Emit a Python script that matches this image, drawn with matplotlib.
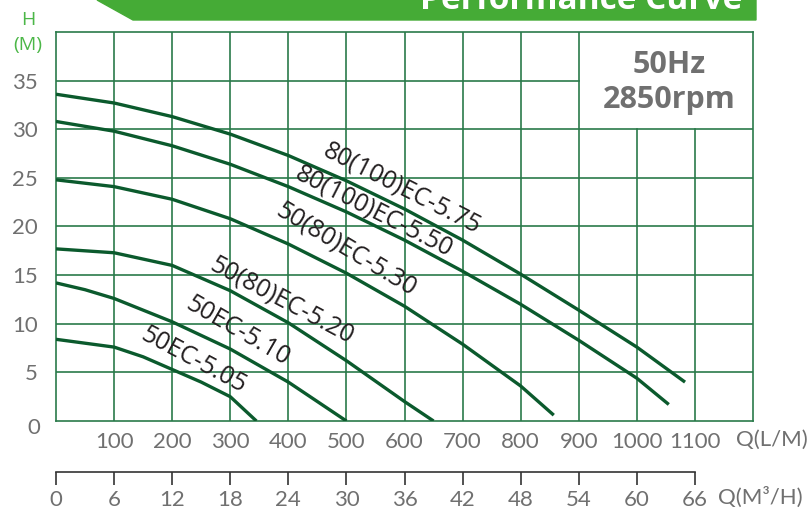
import matplotlib.pyplot as plt
from matplotlib.patches import Polygon

# flow in L/min, head in m
models = ['80(100)EC-5.75', '80(100)EC-5.50', '50(80)EC-5.30',
          '50(80)EC-5.20', '50EC-5.10', '50EC-5.05']
flows = [
    [0, 100, 200, 300, 400, 500, 600, 700, 800, 900, 1000, 1083],
    [0, 100, 200, 300, 400, 500, 600, 700, 800, 900, 1000, 1055],
    [0, 100, 200, 300, 400, 500, 600, 700, 800, 857],
    [0, 100, 200, 300, 400, 500, 600, 650],
    [0, 50, 100, 200, 300, 400, 500],
    [0, 100, 150, 200, 250, 300, 345],
]
heads = [
    [33.6, 32.7, 31.3, 29.5, 27.3, 24.7, 21.8, 18.6, 15.1, 11.4, 7.6, 4.0],
    [30.8, 29.8, 28.3, 26.4, 24.1, 21.5, 18.6, 15.4, 12.0, 8.3, 4.4, 1.7],
    [24.8, 24.1, 22.8, 20.8, 18.2, 15.2, 11.8, 7.9, 3.6, 0.6],
    [17.7, 17.3, 16.0, 13.4, 10.1, 6.2, 2.0, 0.0],
    [14.2, 13.5, 12.6, 10.2, 7.4, 4.0, 0.0],
    [8.4, 7.6, 6.6, 5.3, 4.0, 2.5, 0.0],
]
label_pos = [(596, 23.9, -27), (547, 21.5, -27), (500, 17.6, -31),
             (388, 12.4, -28), (313, 9.2, -30), (236, 6.2, -28)]

lpm_ticks = [100, 200, 300, 400, 500, 600, 700, 800, 900, 1000, 1100]
m3h_ticks = [0, 6, 12, 18, 24, 30, 36, 42, 48, 54, 60, 66]
h_ticks = [5, 10, 15, 20, 25, 30, 35]

W, H = 811, 515
grid_c = '#2a7a4a'
curve_c = '#0b5a2d'
grey = '#707070'
green = '#45ab36'
tick_font = ['Lato', 'DejaVu Sans']

fig = plt.figure(figsize=(W / 100, H / 100), dpi=100)

def fx(x):
    return x / W

def fy(y):
    return 1 - y / H

# header banner
fig.patches.append(Polygon([(fx(97), fy(0)), (fx(133), fy(20)), (fx(756), fy(20)), (fx(756), fy(0))],
                           closed=True, transform=fig.transFigure, color=green, zorder=0))
fig.text(fx(742), fy(9), 'Performance Curve', color='white', fontsize=24, fontweight='bold',
         family='Open Sans', ha='right', va='baseline')

ax = fig.add_axes([fx(56), fy(421), fx(753) - fx(56), fy(32) - fy(421)])
ax.set_xlim(0, 1200)
ax.set_ylim(0, 40)

# grid, leaving the corner box empty
for q in lpm_ticks:
    top = 30 if q > 900 else 40
    ax.plot([q, q], [0, top], color=grid_c, lw=1.2, zorder=1)
for h in h_ticks:
    right = 900 if h > 30 else 1200
    ax.plot([0, right], [h, h], color=grid_c, lw=1.2, zorder=1)
for s in ax.spines.values():
    s.set_color(grid_c)
    s.set_linewidth(1.2)

for q, h in zip(flows, heads):
    ax.plot(q, h, color=curve_c, lw=2.4, solid_capstyle='butt', solid_joinstyle='round', zorder=3)

for name, (qx, hy, rot) in zip(models, label_pos):
    ax.text(qx, hy, name, rotation=rot, rotation_mode='anchor', ha='center', va='center',
            fontsize=18, color='#231f20', family='Open Sans', zorder=4)

ax.text(1055, 36.6, '50Hz', ha='center', va='center', fontsize=22, fontweight='bold',
        color=grey, family='Open Sans')
ax.text(1055, 33.0, '2850rpm', ha='center', va='center', fontsize=22, fontweight='bold',
        color=grey, family='Open Sans')

ax.set_xticks(lpm_ticks)
ax.set_xticklabels([str(t) for t in lpm_ticks])
ax.set_yticks(h_ticks)
ax.tick_params(length=0, labelcolor=grey, labelsize=16)
ax.tick_params(axis='x', pad=8)
ax.tick_params(axis='y', pad=13)
for lab in ax.get_xticklabels() + ax.get_yticklabels():
    lab.set_family(tick_font)
ax.text(1170, -1.9, 'Q(L/M)', ha='left', va='center', fontsize=16, color=grey, family=tick_font,
        clip_on=False)
ax.text(-39, -0.7, '0', ha='center', va='center', fontsize=16, color=grey, family=tick_font,
        clip_on=False)

fig.text(fx(28), fy(20), 'H', color='#4cb748', fontsize=14, ha='center', va='center', family='Open Sans')
fig.text(fx(28), fy(45), '(M)', color='#4cb748', fontsize=14, ha='center', va='center', family='Open Sans')

# second flow scale in m3/h
ax2 = fig.add_axes([fx(56), fy(472), fx(753) - fx(56), 0.001])
ax2.set_xlim(0, 72)
ax2.set_ylim(0, 1)
ax2.patch.set_visible(False)
for k in ['left', 'right', 'top']:
    ax2.spines[k].set_visible(False)
ax2.spines['bottom'].set_bounds(0, 66)
ax2.spines['bottom'].set_color('#333333')
ax2.spines['bottom'].set_linewidth(1.2)
ax2.set_yticks([])
ax2.set_xticks(m3h_ticks)
ax2.set_xticklabels([str(t) for t in m3h_ticks])
ax2.tick_params(axis='x', direction='out', length=9, width=1.2, color='#333333',
                labelcolor=grey, labelsize=16, pad=4)
for lab in ax2.get_xticklabels():
    lab.set_family(tick_font)
fig.text(fx(718), fy(497), 'Q(M³/H)', ha='left', va='center', fontsize=16, color=grey,
         family=tick_font)

fig.savefig('out.png', dpi=100)
